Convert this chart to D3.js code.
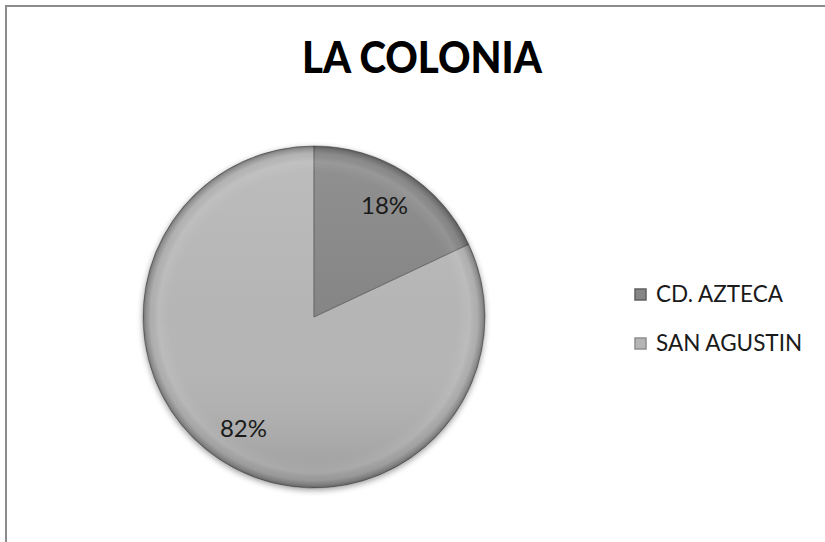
<!DOCTYPE html>
<html>
<head>
<meta charset="utf-8">
<script src="https://cdn.jsdelivr.net/npm/d3@7"></script>
<style>
  html, body { margin: 0; padding: 0; background: #fff; }
  svg { display: block; }
</style>
</head>
<body>
<div id="chart"></div>
<script>
// LA COLONIA — two-slice pie, greyscale bevelled look
var categories = ["CD. AZTECA", "SAN AGUSTIN"];
var values = [18, 82];
var pctLabels = ["18%", "82%"];
var sliceColors = ["#858585", "#b5b5b5"];

var W = 825, H = 542;
var CX = 314, CY = 317, R = 171;

var svg = d3.select("#chart").append("svg")
  .attr("width", W).attr("height", H)
  .style("font-family", "Lato, 'Open Sans', sans-serif");

var defs = svg.append("defs");

// soft shadow round the pie
var sh = defs.append("filter").attr("id", "shadow")
  .attr("x", "-20%").attr("y", "-20%").attr("width", "140%").attr("height", "140%");
sh.append("feGaussianBlur").attr("in", "SourceAlpha").attr("stdDeviation", 3).attr("result", "b");
sh.append("feOffset").attr("in", "b").attr("dx", 0).attr("dy", 2).attr("result", "o");
sh.append("feComponentTransfer").attr("in", "o").attr("result", "s")
  .append("feFuncA").attr("type", "linear").attr("slope", 0.4);
var mg = sh.append("feMerge");
mg.append("feMergeNode").attr("in", "s");
mg.append("feMergeNode").attr("in", "SourceGraphic");

// rim shading (bevel), in the pie group's local coordinates
var rim = defs.append("radialGradient").attr("id", "rim")
  .attr("gradientUnits", "userSpaceOnUse")
  .attr("cx", 0).attr("cy", 0).attr("r", R);
[[0, "#fff", 0], [0.84, "#fff", 0], [0.91, "#fff", 0.08],
 [0.955, "#000", 0.04], [0.985, "#000", 0.22], [1, "#000", 0.4]].forEach(function (s) {
  rim.append("stop").attr("offset", s[0]).attr("stop-color", s[1]).attr("stop-opacity", s[2]);
});
// top-light / bottom-dark overlay
var vert = defs.append("linearGradient").attr("id", "vert")
  .attr("gradientUnits", "userSpaceOnUse")
  .attr("x1", 0).attr("y1", -R).attr("x2", 0).attr("y2", R);
[[0, "#fff", 0.1], [0.5, "#fff", 0], [1, "#000", 0.14]].forEach(function (s) {
  vert.append("stop").attr("offset", s[0]).attr("stop-color", s[1]).attr("stop-opacity", s[2]);
});

// chart frame (right/bottom edges fall outside the shot)
svg.append("rect").attr("x", 6).attr("y", 6).attr("width", W + 20).attr("height", H + 20)
  .attr("fill", "#fff").attr("stroke", "#8c8c8c").attr("stroke-width", 2);

// title
svg.append("text").attr("x", 422).attr("y", 73).attr("text-anchor", "middle")
  .attr("font-weight", 900).attr("font-size", 44).attr("fill", "#000")
  .attr("textLength", 240).attr("lengthAdjust", "spacingAndGlyphs")
  .text("LA COLONIA");

var pie = d3.pie().sort(null).value(function (d) { return d; });
var arcs = pie(values);
var arc = d3.arc().innerRadius(0).outerRadius(R);
var labelArc = d3.arc().innerRadius(R * 0.77).outerRadius(R * 0.77);

var g = svg.append("g").attr("transform", "translate(" + CX + "," + CY + ")");

g.append("g").attr("filter", "url(#shadow)")
  .selectAll("path").data(arcs).enter().append("path")
  .attr("d", arc)
  .attr("fill", function (d, i) { return sliceColors[i]; });

g.selectAll("path.shade").data(arcs).enter().append("path")
  .attr("class", "shade").attr("d", arc).attr("fill", "url(#vert)");
g.selectAll("path.edge").data(arcs).enter().append("path")
  .attr("class", "edge").attr("d", arc)
  .attr("fill", "none").attr("stroke", "#6a6a6a").attr("stroke-width", 1)
  .attr("stroke-opacity", 0.7);
g.append("circle").attr("r", R).attr("fill", "url(#rim)");

// percentage labels
g.selectAll("text.pct").data(arcs).enter().append("text")
  .attr("class", "pct")
  .attr("transform", function (d) { return "translate(" + labelArc.centroid(d) + ")"; })
  .attr("text-anchor", "middle").attr("dy", "0.36em")
  .attr("font-size", 24).attr("fill", "#1a1a1a")
  .text(function (d, i) { return pctLabels[i]; });

// legend
var leg = svg.append("g").attr("transform", "translate(635,289)");
var row = leg.selectAll("g").data(categories).enter().append("g")
  .attr("transform", function (d, i) { return "translate(0," + (i * 49) + ")"; });
row.append("rect").attr("width", 11).attr("height", 11)
  .attr("fill", function (d, i) { return sliceColors[i]; })
  .attr("stroke", function (d, i) { return i ? "#8f8f8f" : "#5f5f5f"; }).attr("stroke-width", 1.5);
row.append("text").attr("x", 21).attr("y", 13)
  .attr("font-size", 22.5).attr("fill", "#1a1a1a")
  .text(function (d) { return d; });
</script>
</body>
</html>
